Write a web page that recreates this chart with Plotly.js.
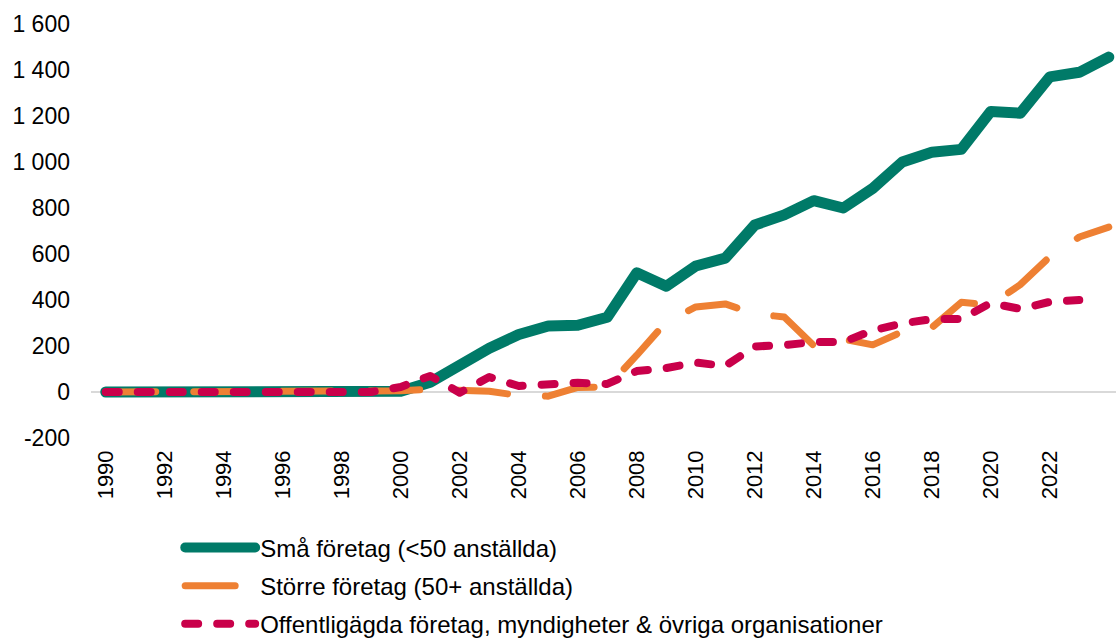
<!DOCTYPE html>
<html>
<head>
<meta charset="utf-8">
<script src="https://cdn.plot.ly/plotly-3.0.1.min.js"></script>
<style>
  html, body { margin: 0; padding: 0; background: #fff; }
  #chart { width: 1116px; height: 641px; }
  .scatterlayer .js-line, .legend .js-line { stroke-linecap: round; stroke-linejoin: round; }
</style>
</head>
<body>
<div id="chart"></div>
<script>
const years = [1990,1991,1992,1993,1994,1995,1996,1997,1998,1999,2000,2001,2002,2003,2004,2005,2006,2007,2008,2009,2010,2011,2012,2013,2014,2015,2016,2017,2018,2019,2020,2021,2022,2023,2024];

const smallFirms = [0,0,0,0,0,0,0,0,0,0,3,42,120,190,250,287,290,325,518,460,548,582,726,770,832,800,885,1000,1042,1055,1220,1212,1370,1390,1456];

const largerFirms = [0,0,0,0,0,0,0,0,0,0,5,12,8,3,-15,-18,20,22,160,305,370,383,340,326,202,230,205,262,280,390,378,467,588,674,717];

const publicOrgs = [0,0,0,0,0,0,0,0,0,0,22,70,-3,65,26,30,40,35,91,104,128,113,198,204,217,217,268,298,317,317,387,361,392,400,null];

const seriesNames = ['Små företag (<50 anställda)', 'Större företag (50+ anställda)', 'Offentligägda företag, myndigheter & övriga organisationer'];

const xTickVals = [1990,1992,1994,1996,1998,2000,2002,2004,2006,2008,2010,2012,2014,2016,2018,2020,2022];
const xTickText = ['1990','1992','1994','1996','1998','2000','2002','2004','2006','2008','2010','2012','2014','2016','2018','2020','2022'];
const yTickVals = [-200,0,200,400,600,800,1000,1200,1400,1600];
const yTickText = ['-200','0','200','400','600','800','1 000','1 200','1 400','1 600'];

const FONT = 'Liberation Sans, Arial, sans-serif';

const traces = [
  {x: years, y: smallFirms, name: seriesNames[0], type: 'scatter', mode: 'lines',
   line: {color: '#007A68', width: 11}, legendgroup: 'a', hoverinfo: 'x+y'},
  {x: years, y: largerFirms, name: seriesNames[1], type: 'scatter', mode: 'lines',
   line: {color: '#EE8033', width: 7, dash: '50px,38px'}, legendgroup: 'b', hoverinfo: 'x+y'},
  {x: years, y: publicOrgs, name: seriesNames[2], type: 'scatter', mode: 'lines',
   line: {color: '#C9004A', width: 8, dash: '13px,19px'}, legendgroup: 'c', hoverinfo: 'x+y'}
];

const layout = {
  width: 1116, height: 641,
  margin: {l: 91, r: 0, t: 24, b: 203, autoexpand: false},
  paper_bgcolor: '#ffffff', plot_bgcolor: '#ffffff',
  font: {family: FONT, size: 22, color: '#000000'},
  showlegend: true,
  xaxis: {
    type: 'linear', range: [1989.5, 2024.245],
    tickmode: 'array', tickvals: xTickVals, ticktext: xTickText,
    tickangle: -90, showgrid: false, zeroline: false, showline: false,
    ticks: '', ticklabelstandoff: 7, automargin: false,
    tickfont: {family: FONT, size: 22, color: '#000000'}
  },
  yaxis: {
    range: [-200, 1600],
    tickmode: 'array', tickvals: yTickVals, ticktext: yTickText,
    showgrid: false, zeroline: true, zerolinecolor: '#D9D9D9', zerolinewidth: 1.5,
    showline: false, ticks: '', ticklabelstandoff: 20, automargin: false,
    tickfont: {family: FONT, size: 23, color: '#000000'}
  },
  legend: {
    orientation: 'v', x: 0.087, xanchor: 'left', y: -0.211, yanchor: 'top',
    bgcolor: 'rgba(0,0,0,0)', borderwidth: 0,
    font: {family: FONT, size: 24, color: '#000000'},
    tracegroupgap: 4, itemwidth: 70, traceorder: 'grouped'
  }
};

Plotly.newPlot('chart', traces, layout, {displayModeBar: false, staticPlot: true});
</script>
</body>
</html>
